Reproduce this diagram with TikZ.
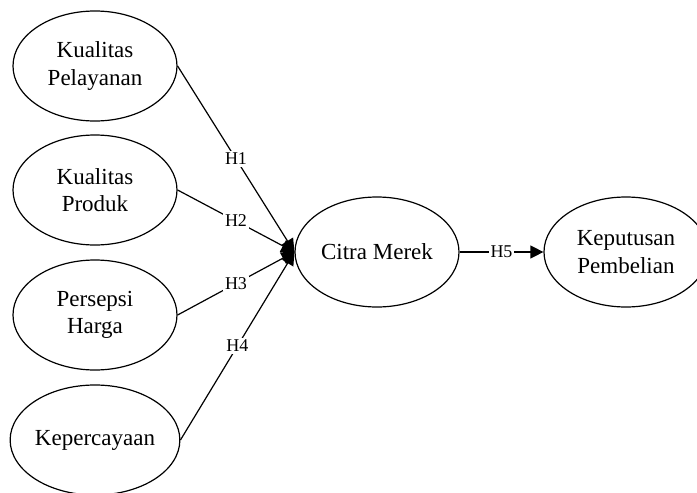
\documentclass[tikz,border=0pt]{standalone}
\usepackage{fontspec}
\setmainfont{Liberation Serif}
\usetikzlibrary{shapes.geometric,arrows.meta}

\begin{document}
\begin{tikzpicture}[x=0.5pt,y=-0.5pt,
    vnode/.style={draw,ellipse,line width=0.6pt,minimum width=82pt,minimum height=55pt,inner sep=0pt,align=center,font=\fontsize{11.5}{13.6}\selectfont},
    hlabel/.style={fill=white,inner sep=0.8pt,font=\fontsize{9}{10}\selectfont},
    conn/.style={line width=0.6pt,-{Triangle[length=6.5pt,width=6.5pt]}}]
    \useasboundingbox (0,0) rectangle (697,493);
    \node[vnode] (kpel) at (95,66) {Kualitas\\Pelayanan};
    \node[vnode] (kprod) at (95,190) {Kualitas\\Produk};
    \node[vnode] (harga) at (95,315) {Persepsi\\Harga};
    \node[vnode] (perc) at (95,440) {Kepercayaan};
    \node[vnode] (citra) at (377,252) {Citra Merek};
    \node[vnode] (kepb) at (626,252) {Keputusan\\Pembelian};

    \draw[conn] (kpel.east) -- node[hlabel] {H1} (citra.west);
    \draw[conn] (kprod.east) -- node[hlabel] {H2} (citra.west);
    \draw[conn] (harga.east) -- node[hlabel] {H3} (citra.west);
    \draw[conn] (perc.east) -- node[hlabel] {H4} (citra.west);
    \draw[conn] (citra.east) -- node[hlabel] {H5} (kepb.west);
\end{tikzpicture}
\end{document}
